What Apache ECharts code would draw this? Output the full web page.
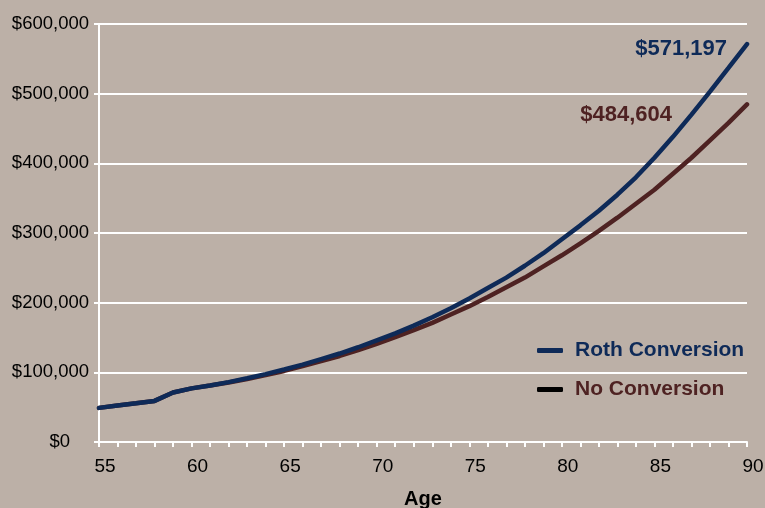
<!DOCTYPE html>
<html>
<head>
<meta charset="utf-8">
<script src="https://cdn.jsdelivr.net/npm/echarts@6/dist/echarts.min.js"></script>
<style>
  html, body { margin: 0; padding: 0; background: #bcb0a7; }
  #chart { width: 765px; height: 508px; }
</style>
</head>
<body>
<div id="chart"></div>
<script>
// Ages along the x axis
const ages = [55, 56, 57, 58, 59, 60, 61, 62, 63, 64, 65, 66, 67, 68, 69, 70, 71, 72,
  73, 74, 75, 76, 77, 78, 79, 80, 81, 82, 83, 84, 85, 86, 87, 88, 89, 90];

// Balance with a Roth conversion
const rothValues = [49000, 52500, 55500, 59000, 71000, 77000, 81000, 86000, 91500, 97500,
  104000, 111000, 119000, 127000, 136000, 146000, 156000, 167000, 179000, 192000,
  206000, 221000, 236000, 253000, 271000, 291000, 311000, 332000, 355000, 380000,
  408000, 438000, 470000, 503000, 537000, 571197];

// Balance with no conversion
const noConvValues = [49000, 52500, 55500, 59000, 71000, 77000, 81000, 85500, 90500, 96000,
  102000, 109000, 116000, 123500, 132000, 141000, 150500, 160500, 171000, 183000,
  195000, 208000, 222000, 236000, 252000, 268000, 285000, 303000, 322000, 342000,
  362000, 385000, 408000, 433000, 458000, 484604];

const seriesNames = ['Roth Conversion', 'No Conversion'];
const yTicks = { min: 0, max: 600000, interval: 100000 };
const xTicks = { min: 55, max: 90, interval: 5 };

const navy = '#0e2a58';
const maroon = '#4e2222';
const font = '"Liberation Sans", Arial, sans-serif';

function money(v) {
  return '$' + Math.round(v).toLocaleString('en-US');
}

function toData(values) {
  return values.map((v, i) => [ages[i], v]);
}

const chart = echarts.init(document.getElementById('chart'), null, { renderer: 'canvas' });

chart.setOption({
  backgroundColor: '#bcb0a7',
  animation: false,
  grid: { left: 99, right: 18, top: 24, bottom: 66, containLabel: false, outerBoundsMode: 'none' },
  xAxis: {
    type: 'value',
    min: xTicks.min,
    max: xTicks.max,
    interval: xTicks.interval,
    name: 'Age',
    nameLocation: 'middle',
    nameGap: 47,
    nameTextStyle: { fontFamily: font, fontSize: 20, fontWeight: 'bold', color: '#000' },
    axisLine: { show: true, lineStyle: { color: '#fff', width: 2 } },
    axisTick: { show: true, length: 5, lineStyle: { color: '#fff', width: 2 } },
    minorTick: { show: true, splitNumber: 5, length: 5, lineStyle: { color: '#fff', width: 2 } },
    splitLine: { show: false },
    axisLabel: { fontFamily: font, fontSize: 19, color: '#000', margin: 15, padding: [0, 0, 0, 12] }
  },
  yAxis: {
    type: 'value',
    min: yTicks.min,
    max: yTicks.max,
    interval: yTicks.interval,
    axisLine: { show: true, lineStyle: { color: '#fff', width: 2 } },
    axisTick: { show: true, length: 5, lineStyle: { color: '#fff', width: 2 } },
    splitLine: { show: true, lineStyle: { color: '#fff', width: 2 } },
    axisLabel: {
      fontFamily: font, fontSize: 18.5, color: '#000', margin: 10,
      // the $0 label sits a bit further left in the original
      formatter: v => v === 0 ? '{z|' + money(v) + '}' : money(v),
      rich: { z: { fontFamily: font, fontSize: 18.5, color: '#000', padding: [0, 19, 0, 0] } }
    }
  },
  legend: [
    {
      left: 532, top: 335, orient: 'vertical',
      icon: 'roundRect', itemWidth: 26, itemHeight: 5,
      data: [{ name: seriesNames[0], itemStyle: { color: navy } }],
      textStyle: { fontFamily: font, fontSize: 21, fontWeight: 'bold', color: navy, padding: [0, 0, 0, 7] }
    },
    {
      left: 532, top: 374, orient: 'vertical',
      icon: 'roundRect', itemWidth: 26, itemHeight: 5,
      data: [{ name: seriesNames[1], itemStyle: { color: '#000' } }],
      textStyle: { fontFamily: font, fontSize: 21, fontWeight: 'bold', color: maroon, padding: [0, 0, 0, 7] }
    }
  ],
  series: [
    {
      name: seriesNames[1],
      type: 'line',
      data: toData(noConvValues),
      showSymbol: false,
      symbol: 'none',
      lineStyle: { color: maroon, width: 4.5, cap: 'round' },
      itemStyle: { color: maroon },
      endLabel: {
        show: true, align: 'right', distance: 0, offset: [-75, 11],
        formatter: p => money(p.value[1]),
        fontFamily: font, fontSize: 22, fontWeight: 'bold', color: maroon
      },
      z: 3
    },
    {
      name: seriesNames[0],
      type: 'line',
      data: toData(rothValues),
      showSymbol: false,
      symbol: 'none',
      lineStyle: { color: navy, width: 4.5, cap: 'round' },
      itemStyle: { color: navy },
      endLabel: {
        show: true, align: 'right', distance: 0, offset: [-20, 5],
        formatter: p => money(p.value[1]),
        fontFamily: font, fontSize: 22, fontWeight: 'bold', color: navy
      },
      z: 4
    }
  ]
});
</script>
</body>
</html>
